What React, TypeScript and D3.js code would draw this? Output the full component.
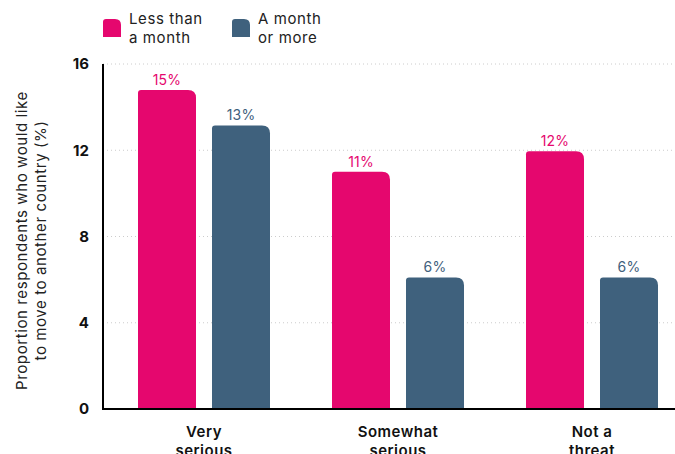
import React from "react";
import * as d3 from "d3";

const categories = [["Very", "serious"], ["Somewhat", "serious"], ["Not a", "threat"]];
const seriesNames = [["Less than", "a month"], ["A month", "or more"]];
const lessThanMonth = [14.8, 11.0, 11.95];
const monthOrMore = [13.15, 6.1, 6.1];
const valueLabels = [["15%", "11%", "12%"], ["13%", "6%", "6%"]];
const yTicks = [0, 4, 8, 12, 16];
const colors = ["#E5076E", "#3F617D"];
const yTitle = ["Proportion respondents who would like", "to move to another country (%)"];

const W = 675, H = 454;
const left = 103, right = 675, top = 64, bottom = 409;
const font = "Inter, 'DejaVu Sans', sans-serif";

function barPath(x: number, y: number, w: number, h: number, rl: number, rr: number) {
  return `M${x},${y + h} L${x},${y + rl} Q${x},${y} ${x + rl},${y} L${x + w - rr},${y} Q${x + w},${y} ${x + w},${y + rr} L${x + w},${y + h} Z`;
}

export default function App() {
  const keys = categories.map((c) => c.join(" "));
  const x0 = d3.scaleBand<string>().domain(keys).range([107, 689]).padding(0);
  const x1 = d3.scaleBand<string>().domain(["0", "1"]).range([31, 163]).paddingInner(16 / 74).paddingOuter(0);
  const y = d3.scaleLinear().domain([0, 16]).range([bottom, top]);
  const series = [lessThanMonth, monthOrMore];

  return (
    <svg width={W} height={H} style={{ display: "block", position: "absolute", left: 0, top: 0 }} fontFamily={font}>
      {yTicks.filter((t) => t > 0).map((t) => (
        <line key={t} x1={left} x2={right} y1={y(t)} y2={y(t)} stroke="#ccc" strokeWidth={1} strokeDasharray="1,3" />
      ))}
      {series.map((vals, si) =>
        vals.map((v, ci) => {
          const bx = (x0(keys[ci]) as number) + (x1(String(si)) as number);
          const bw = x1.bandwidth();
          const by = y(v);
          return (
            <g key={`${si}-${ci}`}>
              <path d={barPath(bx, by, bw, bottom - by, 3, 8)} fill={colors[si]} />
              <text x={bx + bw / 2} y={by - 5} textAnchor="middle" fontSize={14} letterSpacing={0.2} fill={colors[si]}>
                {valueLabels[si][ci]}
              </text>
            </g>
          );
        })
      )}
      <line x1={left} x2={left} y1={top} y2={bottom + 1} stroke="#000" strokeWidth={2} />
      <line x1={left - 1} x2={right} y1={bottom} y2={bottom} stroke="#000" strokeWidth={2} />
      {yTicks.map((t) => (
        <text key={t} x={89} y={y(t)} dy="0.35em" textAnchor="end" fontSize={15} fontWeight={700} fill="#111">
          {t}
        </text>
      ))}
      {categories.map((c, i) => {
        const cx = (x0(keys[i]) as number) + x0.bandwidth() / 2;
        return (
          <text key={i} x={cx} textAnchor="middle" fontSize={15} fontWeight={600} letterSpacing={0.5} fill="#111">
            <tspan x={cx} y={437}>{c[0]}</tspan>
            <tspan x={cx} y={456}>{c[1]}</tspan>
          </text>
        );
      })}
      <text transform={`translate(27,${(top + bottom) / 2 + 4}) rotate(-90)`} textAnchor="middle" fontSize={15} letterSpacing={0.6} fill="#222">
        <tspan x={0} y={0}>{yTitle[0]}</tspan>
        <tspan x={0} y={19}>{yTitle[1]}</tspan>
      </text>
      {seriesNames.map((s, i) => {
        const lx = 103 + i * 129;
        return (
          <g key={i}>
            <path d={barPath(lx, 19, 18, 18, 3, 6)} fill={colors[i]} />
            <text x={lx + 26} fontSize={15} letterSpacing={0.6} fill="#222">
              <tspan x={lx + 26} y={24}>{s[0]}</tspan>
              <tspan x={lx + 26} y={43}>{s[1]}</tspan>
            </text>
          </g>
        );
      })}
    </svg>
  );
}
